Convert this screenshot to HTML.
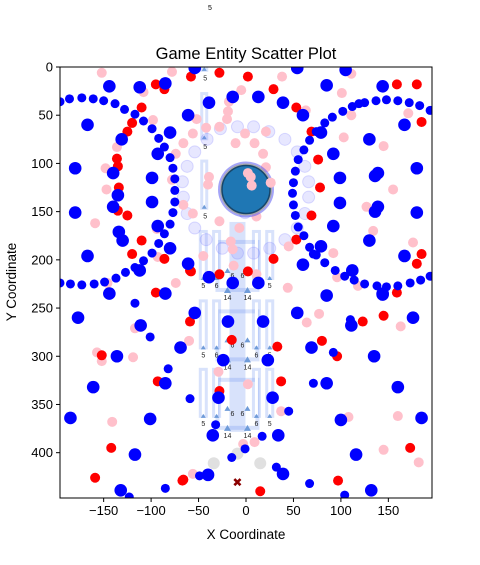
<!DOCTYPE html>
<html><head><meta charset="utf-8"><style>
body{margin:0;background:#fff;width:480px;height:560px;overflow:hidden;font-family:"Liberation Sans","DejaVu Sans",sans-serif}
svg text{font-family:"Liberation Sans","DejaVu Sans",sans-serif}
</style></head><body>
<svg id="chart" width="480" height="560" xmlns="http://www.w3.org/2000/svg"></svg>
<script>
const xTicks=[-150,-100,-50,0,50,100,150];
const yTicks=[0,50,100,150,200,250,300,350,400];
const ringX=[194,183,172,160,148,137,125,119,112,102,91,83,74,67,61,55,52,50,49,50,52,55,61,67,74,83,94,104,114,125,138,148,160,173,184,194,-196,-186,-173,-161,-150,-138,-128,-117,-108,-99,-92,-86,-80,-77,-75,-75,-75,-77,-80,-86,-92,-99,-108,-117,-127,-137,-149,-160,-173,-185,-196,-117,-101,-82,-59,-49,-85,-123,110,92,71,45,67,104,-32,17,-1,-15,32,71];
const ringY=[45,40,37,35,34,35,37,38,41,46,52,58,67,76,86,96,108,120,131,143,154,166,175,187,195,203,211,217,221,225,227,228,227,224,221,217,36,33,32,33,35,38,44,49,56,64,74,83,94,105,116,128,140,151,163,173,183,193,201,208,213,219,223,225,226,225,224,245,280,313,344,424,437,446,262,296,328,357,432,444,371,383,396,405,415,194];
const bigX=[-144,-112,-85,-39,-61,-167,-80,-131,-93,-180,-140,-99,-135,-99,-140,-180,-93,-134,-130,-80,-167,-61,-112,-39,-144,-85,-177,-111,-54,-69,-136,-161,-85,-185,-101,-117,-132,85,144,54,111,176,69,135,85,160,100,185,116,39,132,-14,13,60,-19,18,-24,23,-29,28,-35,34,-40,-54,54,-14,13,39,60,105,85,144,79,167,130,92,139,136,180,99,99,139,136,180,92,130,79,167,112,144];
const bigY=[20,21,17,37,50,60,68,75,90,105,110,115,133,140,145,151,165,171,180,188,196,204,211,218,235,235,260,268,255,291,300,332,328,364,365,402,439,237,236,255,268,260,291,300,328,332,366,364,402,422,439,224,224,205,264,264,304,304,343,343,382,382,423,1,1,31,31,37,50,3,19,20,68,60,75,90,110,113,105,115,141,145,150,151,165,180,186,196,211,235];
const redX=[-95,-59,-152,-93,-142,-159,-67,159,145,123,80,96,173,97,-58,-28,2,29,-15,33,37,-28,-66,15,-58,-28,2,29,53,69,76,78,69,53,-95,-86,-110,-120,-125,-136,-135,-134,-135,-125,-110,-120,-86,-59,159,180,185,185,180];
const redY=[234,264,299,326,395,426,429,234,258,264,284,300,395,429,212,215,212,199,283,290,326,336,428,440,10,6,10,23,42,67,96,125,154,179,18,23,42,58,67,95,103,125,149,154,180,194,199,211,18,18,57,194,204];
const pinkX=[-117,-60,-157,-152,-119,-141,-56,77,64,163,108,160,145,182,-45,-13,11,44,-29,2,37,-3,9,38,-5,-18,-19,-20,-52,63,21,-1,9,-11,-42,-56,-28,18,21,-39,-40,26,-56,-28,11,-7,-16,-14,45,-98,-108,-136,-148,-147,-159,-152,-78,-74,-146,-66,-74,-78,-66,-94,-93,111,101,111,171,103,145,155,127,134,176,92,96,118,2,5,6];
const pinkY=[271,284,296,305,301,368,422,256,265,269,363,362,397,410,196,206,215,229,316,329,357,391,389,10,24,36,46,54,54,45,67,69,79,79,63,69,62,90,104,114,122,120,152,160,155,167,181,189,186,55,26,83,105,127,162,6,5,224,224,79,90,117,143,168,197,7,27,50,48,73,82,127,145,170,182,193,218,227,110,114,123];
const lavX=[-9,8,24,41,-54,-62,-67,-66,-62,-54,-42,-25,-9,8,25,41,54,62,66,66,62,54,-41,-27,18,11,-1];
const lavY=[62,62,67,75,88,103,119,135,152,167,179,188,193,193,188,179,167,152,135,119,103,88,75,64,131,143,151];
const grayX=[-9,-34,15];
const grayY=[401,411,411];
const markerX=[-9], markerY=[431];
const hubX=[0], hubY=[127];
const topColX=-44, topColTops=[-7,26,96], topColBots=[5,76,148];
const blockTops=[169,241,312];
const colCenters=[-45,-31,11,25], colLabels=["5","6","6","5"];

const L=60,R=432,T=67,B=498,xMin=-196,xMax=196,yMin=0,yMax=447;
const sx=v=>L+(v-xMin)/(xMax-xMin)*(R-L);
const sy=v=>T+(v-yMin)/(yMax-yMin)*(B-T);
const svg=document.getElementById('chart');
const NS='http://www.w3.org/2000/svg';
function mk(tag,attrs,parent){const e=document.createElementNS(NS,tag);for(const k in attrs)e.setAttribute(k,attrs[k]);(parent||svg).appendChild(e);return e;}

const defs=mk('defs',{});
const cp=mk('clipPath',{id:'clip'},defs);mk('rect',{x:L,y:T,width:R-L,height:B-T},cp);
const plot=mk('g',{'clip-path':'url(#clip)'});



// structures
const sFill='rgba(100,140,240,0.25)';
const topLbl=[11,82,154];
topColTops.forEach((t,i)=>{
  const r=mk('rect',{x:sx(topColX)-4,y:sy(t),width:8,height:sy(topColBots[i])-sy(t),fill:sFill},plot);
  
  
  mk('rect',{x:sx(topColX)-1,y:sy(t)+3,width:2,height:sy(topColBots[i])-sy(t)-6,fill:'#fff'},plot);
  mk('polygon',{points:`${sx(topColX)-2.5},${sy(topColBots[i])-1} ${sx(topColX)+2.5},${sy(topColBots[i])-1} ${sx(topColX)},${sy(topColBots[i])-5}`,fill:'#6f9bd8'},plot);
  const tx=mk('text',{x:sx(topColX)+1,y:sy(topLbl[i])+3,'font-size':7,'text-anchor':'middle',fill:'#222'},plot);tx.textContent='5';
  
  
});
const cx0=sx(-9);
mk('rect',{x:cx0-8,y:sy(blockTops[0])-8,width:16,height:sy(blockTops[2])-sy(blockTops[0])+72,fill:sFill},plot);
blockTops.forEach(bt=>{
  const y0=sy(bt);
  const g=mk('g',{},plot);
  
  
  mk('rect',{x:cx0-20,y:y0+12,width:40,height:48,fill:'none',stroke:sFill,'stroke-width':4},g);
  colCenters.forEach((c,j)=>{
    mk('rect',{x:sx(c)-4.5,y:y0,width:9,height:50,fill:sFill},g);
    mk('rect',{x:sx(c)-1.5,y:y0+3,width:3,height:44,fill:'#fff'},g);
    mk('polygon',{points:`${sx(c)-2.5},${y0+50} ${sx(c)+2.5},${y0+50} ${sx(c)},${y0+46}`,fill:'#6f9bd8'},g);
    const t=mk('text',{x:sx(c),y:y0+58,'font-size':7,'text-anchor':'middle',fill:'#222'},g);t.textContent=colLabels[j];
  });
  [-5,5].forEach(d=>{
    const t=mk('text',{x:cx0+d,y:y0+48,'font-size':7,'text-anchor':'middle',fill:'#222'},g);t.textContent='6';
    mk('polygon',{points:`${cx0+d*2-3},${y0+43} ${cx0+d*2+3},${y0+43} ${cx0+d*2},${y0+38}`,fill:'#6f9bd8'},g);
    mk('polygon',{points:`${cx0+d*2-3.5},${y0+63} ${cx0+d*2+3.5},${y0+63} ${cx0+d*2},${y0+57}`,fill:'#6f9bd8'},g);
    const t2=mk('text',{x:cx0+d*2,y:y0+70,'font-size':7,'text-anchor':'middle',fill:'#222'},g);t2.textContent='14';
  });
});

function pts(xs,ys,r,fill,name,extra){
  xs.forEach((v,i)=>{
    const c=mk('circle',Object.assign({cx:sx(v),cy:sy(ys[i]),r:r,fill:fill},extra||{}),plot);
    
    
  });
}
pts(lavX,lavY,6,'rgba(120,120,255,0.18)','lavender-point',{stroke:'rgba(120,120,255,0.25)','stroke-width':1});
pts(pinkX,pinkY,5,'#ffc0cb','pink-point');
// hub
hubX.forEach((v,i)=>{
  const g=mk('g',{},plot);
  
  
  mk('circle',{cx:sx(v),cy:sy(hubY[i]),r:28,fill:'rgba(90,90,240,0.55)'},g);
  mk('circle',{cx:sx(v),cy:sy(hubY[i]),r:26,fill:'#a8a8a8'},g);
  mk('circle',{cx:sx(v),cy:sy(hubY[i]),r:24,fill:'#1f77b4',stroke:'#17456a','stroke-width':1.5},g);
});
pts([2,5,6,26],[110,114,123,120],5,'#ffc0cb','pink-point');
pts(grayX,grayY,6,'#e0e0e0','gray-point');
pts(redX,redY,5,'#ff0000','red-point');
pts(ringX,ringY,4.5,'#0000ff','blue-small-point');
pts(bigX,bigY,6.3,'#0000ff','blue-large-point');
markerX.forEach((v,i)=>{
  const t=mk('text',{x:sx(v),y:sy(markerY[i])+4,'font-size':12,'font-weight':'bold','text-anchor':'middle',fill:'#8b0000'},plot);
  t.textContent='✖';
  
  
});

// frame and axes
const fr=mk('rect',{x:L,y:T,width:R-L,height:B-T,fill:'none',stroke:'#000','stroke-width':1});


xTicks.forEach(v=>{
  mk('line',{x1:sx(v),x2:sx(v),y1:B,y2:B+4,stroke:'#000'});
  const t=mk('text',{x:sx(v),y:B+17,'font-size':13,'text-anchor':'middle'});t.textContent=v<0?'\u2212'+(-v):v;
  
  
});
yTicks.forEach(v=>{
  mk('line',{x1:L-4,x2:L,y1:sy(v),y2:sy(v),stroke:'#000'});
  const t=mk('text',{x:L-7,y:sy(v)+4.5,'font-size':13,'text-anchor':'end'});t.textContent=v;
  
  
});
let t=mk('text',{x:246,y:59,'font-size':16.5,'text-anchor':'middle'});t.textContent='Game Entity Scatter Plot';


t=mk('text',{x:246,y:539,'font-size':13.5,'text-anchor':'middle'});t.textContent='X Coordinate';


t=mk('text',{x:16,y:282,'font-size':13.5,'text-anchor':'middle',transform:'rotate(-90 16 282)'});t.textContent='Y Coordinate';


t=mk('text',{x:210,y:10,'font-size':7,'text-anchor':'middle'});t.textContent='5';


</script>
</body></html>
